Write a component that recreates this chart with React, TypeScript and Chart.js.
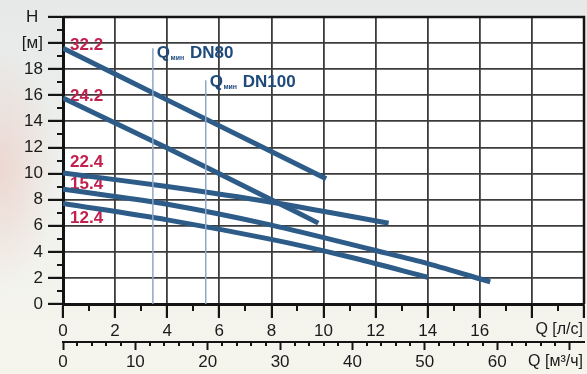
import React, { useEffect, useRef } from "react";
import { Chart, registerables } from "chart.js";

Chart.register(...registerables);

// ---- data (Q in l/s, H in m) ----
const curve322 = [
  { x: 0, y: 19.6 },
  { x: 5, y: 14.65 },
  { x: 10.1, y: 9.6 },
];
const curve242 = [
  { x: 0, y: 15.8 },
  { x: 4, y: 11.95 },
  { x: 8, y: 8.0 },
  { x: 9.8, y: 6.2 },
];
const curve224 = [
  { x: 0, y: 10.05 },
  { x: 4, y: 9.0 },
  { x: 8, y: 7.8 },
  { x: 12.5, y: 6.2 },
];
const curve154 = [
  { x: 0, y: 8.8 },
  { x: 4, y: 7.65 },
  { x: 8, y: 6.05 },
  { x: 12, y: 4.1 },
  { x: 14, y: 3.1 },
  { x: 16.4, y: 1.7 },
];
const curve124 = [
  { x: 0, y: 7.7 },
  { x: 4, y: 6.45 },
  { x: 8, y: 4.95 },
  { x: 11, y: 3.6 },
  { x: 14, y: 2.05 },
];
const curveNames = ["32.2", "24.2", "22.4", "15.4", "12.4"];
const curveLabelAnchors = [
  { x: 0.27, y: 19.85 },
  { x: 0.27, y: 15.95 },
  { x: 0.27, y: 10.85 },
  { x: 0.27, y: 9.2 },
  { x: 0.27, y: 6.6 },
];

const qminDN80 = [
  { x: 3.45, y: 0 },
  { x: 3.45, y: 19.6 },
];
const qminDN100 = [
  { x: 5.48, y: 0 },
  { x: 5.48, y: 17.15 },
];
const qminNames = ["DN80", "DN100"];
const qminLabelAnchors = [
  { x: 3.6, y: 19.25 },
  { x: 5.63, y: 17.0 },
];

const xLsTicks = [0, 2, 4, 6, 8, 10, 12, 14, 16];
const xM3hTicks = [0, 10, 20, 30, 40, 50, 60];
const yTickLabels: Record<number, string> = { 20: "[м]", 22: "H " };
const xUnitLabel = "Q [л/с]";
const x2UnitLabel = "Q [м³/ч]";

const FONT = "'Liberation Sans', Arial, sans-serif";
const CURVE = "#2d5c88";
const RED = "#c2204f";
const BLUE_TXT = "#1f4a7c";
const GRID = "#3c3c3c";
const AXIS = "#141414";

const drawPlugin = {
  id: "pumpDecor",
  beforeDraw(chart: any) {
    const { ctx, chartArea: a } = chart;
    ctx.save();
    ctx.fillStyle = "#ffffff";
    ctx.fillRect(a.left, a.top, a.right - a.left, a.bottom - a.top);
    ctx.restore();
  },
  beforeDatasetsDraw(chart: any) {
    const { ctx } = chart;
    const xs = chart.scales.x;
    const ys = chart.scales.y;
    ctx.save();
    ctx.font = `bold 17px ${FONT}`;
    ctx.fillStyle = RED;
    ctx.textAlign = "left";
    ctx.textBaseline = "middle";
    curveNames.forEach((n, i) => {
      const p = curveLabelAnchors[i];
      ctx.fillText(n, xs.getPixelForValue(p.x), ys.getPixelForValue(p.y));
    });
    ctx.fillStyle = BLUE_TXT;
    qminNames.forEach((n, i) => {
      const p = qminLabelAnchors[i];
      let px = xs.getPixelForValue(p.x);
      const py = ys.getPixelForValue(p.y);
      ctx.font = `bold 17px ${FONT}`;
      ctx.fillText("Q", px, py);
      px += ctx.measureText("Q").width + 0.5;
      ctx.font = `bold 7px ${FONT}`;
      ctx.fillText("мин", px, py + 5);
      px += ctx.measureText("мин").width + 1;
      ctx.font = `bold 17px ${FONT}`;
      ctx.fillText(" " + n, px, py);
    });
    ctx.restore();
  },
  afterDraw(chart: any) {
    const { ctx, chartArea: a } = chart;
    const xs = chart.scales.x;
    const x2 = chart.scales.x2;
    const ys = chart.scales.y;
    ctx.save();
    ctx.strokeStyle = AXIS;
    ctx.lineWidth = 2;
    ctx.beginPath();
    for (let v = 1; v < 22; v += 2) {
      const py = Math.round(ys.getPixelForValue(v));
      ctx.moveTo(a.left - 6, py);
      ctx.lineTo(a.left, py);
    }
    for (let v = 1; v < 20; v += 2) {
      const px = Math.round(xs.getPixelForValue(v));
      ctx.moveTo(px, a.bottom);
      ctx.lineTo(px, a.bottom + 7);
    }
    for (let v = 2; v < 72; v += 2) {
      if (v % 10 === 0) continue;
      const px = Math.round(x2.getPixelForValue(v));
      ctx.moveTo(px, x2.top);
      ctx.lineTo(px, x2.top + 4);
    }
    ctx.stroke();
    ctx.lineWidth = 2.5;
    ctx.beginPath();
    ctx.moveTo(a.left, a.top);
    ctx.lineTo(a.right, a.top);
    ctx.lineTo(a.right, a.bottom);
    ctx.stroke();
    ctx.fillStyle = "#1a1a1a";
    ctx.font = `16px ${FONT}`;
    ctx.textAlign = "right";
    ctx.textBaseline = "middle";
    ctx.fillText(xUnitLabel, 583, xs.top + 26);
    ctx.fillText(x2UnitLabel, 583, x2.top + 20);
    ctx.restore();
  },
};

export default function App() {
  const ref = useRef<HTMLCanvasElement | null>(null);

  useEffect(() => {
    if (!ref.current) return;
    const line = (data: any[], w: number, color: string) => ({
      data,
      showLine: true,
      borderColor: color,
      borderWidth: w,
      pointRadius: 0,
      fill: false,
      tension: 0.3,
      borderCapStyle: "butt",
      xAxisID: "x",
      yAxisID: "y",
    });
    const tickFont = { family: FONT, size: 17 };
    const chart = new Chart(ref.current, {
      type: "scatter",
      data: {
        datasets: [
          line(qminDN80, 1.5, "#8ea8c8"),
          line(qminDN100, 1.5, "#8ea8c8"),
          line(curve322, 5, CURVE),
          line(curve242, 5, CURVE),
          line(curve224, 5, CURVE),
          line(curve154, 5, CURVE),
          line(curve124, 5, CURVE),
        ] as any,
      },
      options: {
        responsive: false,
        animation: false,
        layout: { padding: { top: 17, right: 2, left: 0, bottom: 0 } },
        plugins: { legend: { display: false }, tooltip: { enabled: false } },
        scales: {
          x: {
            type: "linear",
            position: "bottom",
            min: 0,
            max: 20,
            afterFit: (s: any) => {
              s.height = 38;
            },
            ticks: {
              stepSize: 2,
              autoSkip: false,
              maxRotation: 0,
              padding: 3,
              color: "#1a1a1a",
              font: tickFont,
              callback: (v: any) => (xLsTicks.includes(Number(v)) ? String(v) : ""),
            },
            grid: { color: GRID, lineWidth: 1.8, tickLength: 14, tickColor: AXIS, tickWidth: 2.2 },
            border: { color: AXIS, width: 3 },
          },
          x2: {
            type: "linear",
            position: "bottom",
            min: 0,
            max: 72,
            afterFit: (s: any) => {
              s.height = 32;
            },
            ticks: {
              stepSize: 10,
              includeBounds: false,
              autoSkip: false,
              maxRotation: 0,
              padding: 2,
              color: "#1a1a1a",
              font: tickFont,
              callback: (v: any) => (xM3hTicks.includes(Number(v)) ? String(v) : ""),
            },
            grid: { drawOnChartArea: false, tickLength: 8, tickColor: AXIS, tickWidth: 2 },
            border: { color: AXIS, width: 2 },
          },
          y: {
            type: "linear",
            min: 0,
            max: 22,
            afterFit: (s: any) => {
              s.width = 63;
            },
            ticks: {
              stepSize: 2,
              autoSkip: false,
              padding: 5,
              color: "#1a1a1a",
              font: tickFont,
              callback: (v: any) => yTickLabels[Number(v)] ?? String(v),
            },
            grid: { color: GRID, lineWidth: 1.8, tickLength: 15, tickColor: AXIS, tickWidth: 2.2 },
            border: { color: AXIS, width: 3 },
          },
        },
      },
      plugins: [drawPlugin],
    } as any);
    return () => chart.destroy();
  }, []);

  return (
    <div
      style={{
        position: "fixed",
        left: 0,
        top: 0,
        width: 587,
        height: 374,
        background:
          "radial-gradient(ellipse 60px 120px at 0px 170px, rgba(235,190,180,0.5), rgba(235,190,180,0) 100%), linear-gradient(180deg, #e6e9e8 0%, #eff1ee 50%, #f6f5ec 100%)",
      }}
    >
      <canvas ref={ref} width={587} height={374} style={{ display: "block", width: 587, height: 374 }} />
    </div>
  );
}
